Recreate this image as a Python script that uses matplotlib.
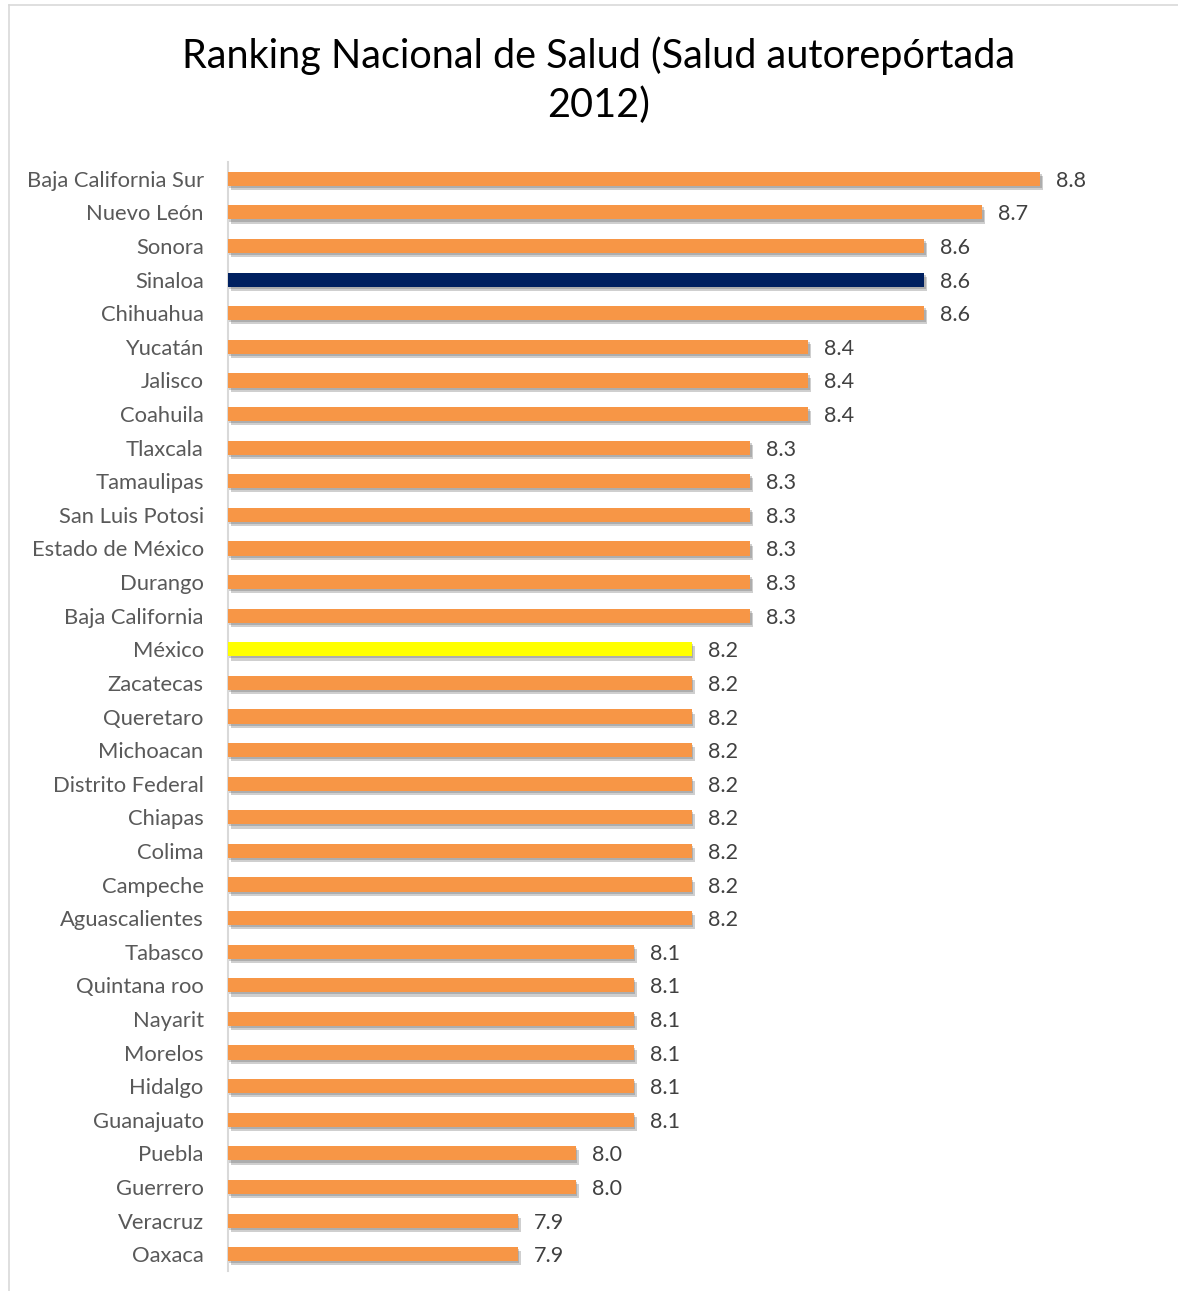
import matplotlib
matplotlib.use("Agg")
import matplotlib.pyplot as plt
import matplotlib.patheffects as pe
from matplotlib.lines import Line2D

# Data (top to bottom as shown)
states = ["Baja California Sur", "Nuevo León", "Sonora", "Sinaloa", "Chihuahua",
          "Yucatán", "Jalisco", "Coahuila", "Tlaxcala", "Tamaulipas",
          "San Luis Potosi", "Estado de México", "Durango", "Baja California", "México",
          "Zacatecas", "Queretaro", "Michoacan", "Distrito Federal", "Chiapas",
          "Colima", "Campeche", "Aguascalientes", "Tabasco", "Quintana roo",
          "Nayarit", "Morelos", "Hidalgo", "Guanajuato", "Puebla",
          "Guerrero", "Veracruz", "Oaxaca"]
scores = [8.8, 8.7, 8.6, 8.6, 8.6,
          8.4, 8.4, 8.4, 8.3, 8.3,
          8.3, 8.3, 8.3, 8.3, 8.2,
          8.2, 8.2, 8.2, 8.2, 8.2,
          8.2, 8.2, 8.2, 8.1, 8.1,
          8.1, 8.1, 8.1, 8.1, 8.0,
          8.0, 7.9, 7.9]
highlight = {"Sinaloa": "#002060", "México": "#FFFF00"}

plt.rcParams["font.family"] = ["Lato", "DejaVu Sans"]

fig = plt.figure(figsize=(11.78, 12.91), dpi=100)
ax = fig.add_axes([0.1935, 0.0155, 0.7575, 0.859])

xmin = 7.4
pos = list(range(len(states)))
colors = [highlight.get(s, "#F79646") for s in states]
bars = ax.barh(pos, [v - xmin for v in scores], left=xmin, height=0.42,
               color=colors, zorder=3)
for b in bars:
    b.set_path_effects([pe.SimplePatchShadow(offset=(2, -3), shadow_rgbFace="#606060", alpha=0.3),
                        pe.SimplePatchShadow(offset=(1, -1.5), shadow_rgbFace="#606060", alpha=0.3),
                        pe.Normal()])

for p, v in zip(pos, scores):
    ax.text(v + 0.027, p, f"{v:.1f}", va="center_baseline", ha="left",
            fontsize=15.5, color="#404040")

ax.set_xlim(xmin, 8.938)
ax.set_ylim(len(states) - 0.5, -0.5)
ax.set_yticks(pos)
ax.set_yticklabels(states, fontsize=15.8, color="#595959")
for lbl in ax.get_yticklabels():
    lbl.set_verticalalignment("center_baseline")
ax.tick_params(axis="y", length=0, pad=17.5)
ax.set_xticks([])
for side in ["top", "right", "bottom"]:
    ax.spines[side].set_visible(False)
ax.spines["left"].set_color("#D9D9D9")
ax.spines["left"].set_linewidth(1.5)

fig.text(0.508, 0.938, "Ranking Nacional de Salud (Salud autorepórtada\n2012)",
         ha="center", va="center", fontsize=28.5, color="#000000", linespacing=1.36)

# outer chart border
fig.add_artist(Line2D([0.0076, 0.0076], [0, 0.996], color="#D9D9D9", lw=1.2))
fig.add_artist(Line2D([0.0076, 1], [0.996, 0.996], color="#D9D9D9", lw=1.2))

fig.savefig("out.png", dpi=100)
